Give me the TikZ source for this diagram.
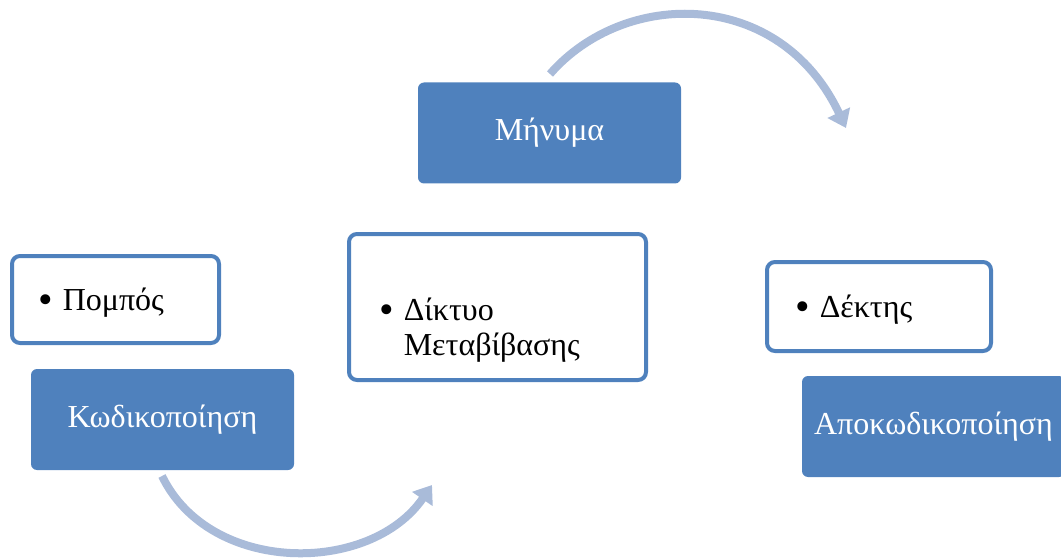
\documentclass[tikz,border=0pt]{standalone}
\usepackage{fontspec}
\setmainfont{Liberation Serif}
\usetikzlibrary{arrows.meta,positioning}
\definecolor{flowBlue}{HTML}{4F81BD}
\definecolor{flowTint}{HTML}{A9BBD9}
\definecolor{flowInk}{HTML}{000000}
\tikzset{
  every picture/.style={font=\fontsize{32}{35}\selectfont, text=flowInk},
  flow item/.style={draw=flowBlue, line width=4pt, rounded corners=8pt,
    fill=white},
  flow stage/.style={fill=flowBlue, rounded corners=6pt, text=white,
    minimum width=263pt, minimum height=101pt, inner sep=0pt},
  flow text/.style={anchor=base west, inner sep=0pt, align=left},
  flow arrow/.style={-{Triangle[length=17pt,width=24pt]},
    draw=flowTint, line width=8pt, line cap=butt}
}
\newcommand{\flowbullet}[1]{\begin{tabular}{@{}l@{\hspace{10pt}}l@{}}\raisebox{-2.5pt}{\scalebox{1.3}{\textbullet}} & #1\end{tabular}}

\begin{document}
\begin{tikzpicture}[x=1pt,y=-1pt]
  \useasboundingbox (0,0) rectangle (1061,559);
  % stages
  \node[flow stage] (encode) at (162.5,419.5) {Κωδικοποίηση};
  \node[flow stage] (message) at (549.5,133) {Μήνυμα};
  \node[flow stage] (decode) at (933.5,426.5) {Αποκωδικοποίηση};
  % items
  \node[flow item, minimum width=207pt, minimum height=87pt] (sender) at (115.5,299.5) {};
  \node[flow item, minimum width=297pt, minimum height=146pt] (channel) at (497.5,307) {};
  \node[flow item, minimum width=224pt, minimum height=89pt] (receiver) at (879,306.5) {};
  \node[flow text] (sendertxt) at (38,310) {\flowbullet{Πομπός}};
  \node[flow text, anchor=north west] (channeltxt) at (379,296) {\flowbullet{Δίκτυο\\ & Μεταβίβασης}};
  \node[flow text] (receivertxt) at (795,317) {\flowbullet{Δέκτης}};
  % arrows
  \coordinate (encodeout) at (162,476);
  \coordinate (channelin) at (432,485);
  \coordinate (messageout) at (550,74);
  \coordinate (receiverin) at (846,128);
  \draw[flow arrow] (encodeout) .. controls (210,575) and (370,575) .. (channelin);
  \draw[flow arrow] (messageout) .. controls (625,-12) and (780,-12) .. (receiverin);
\end{tikzpicture}
\end{document}
